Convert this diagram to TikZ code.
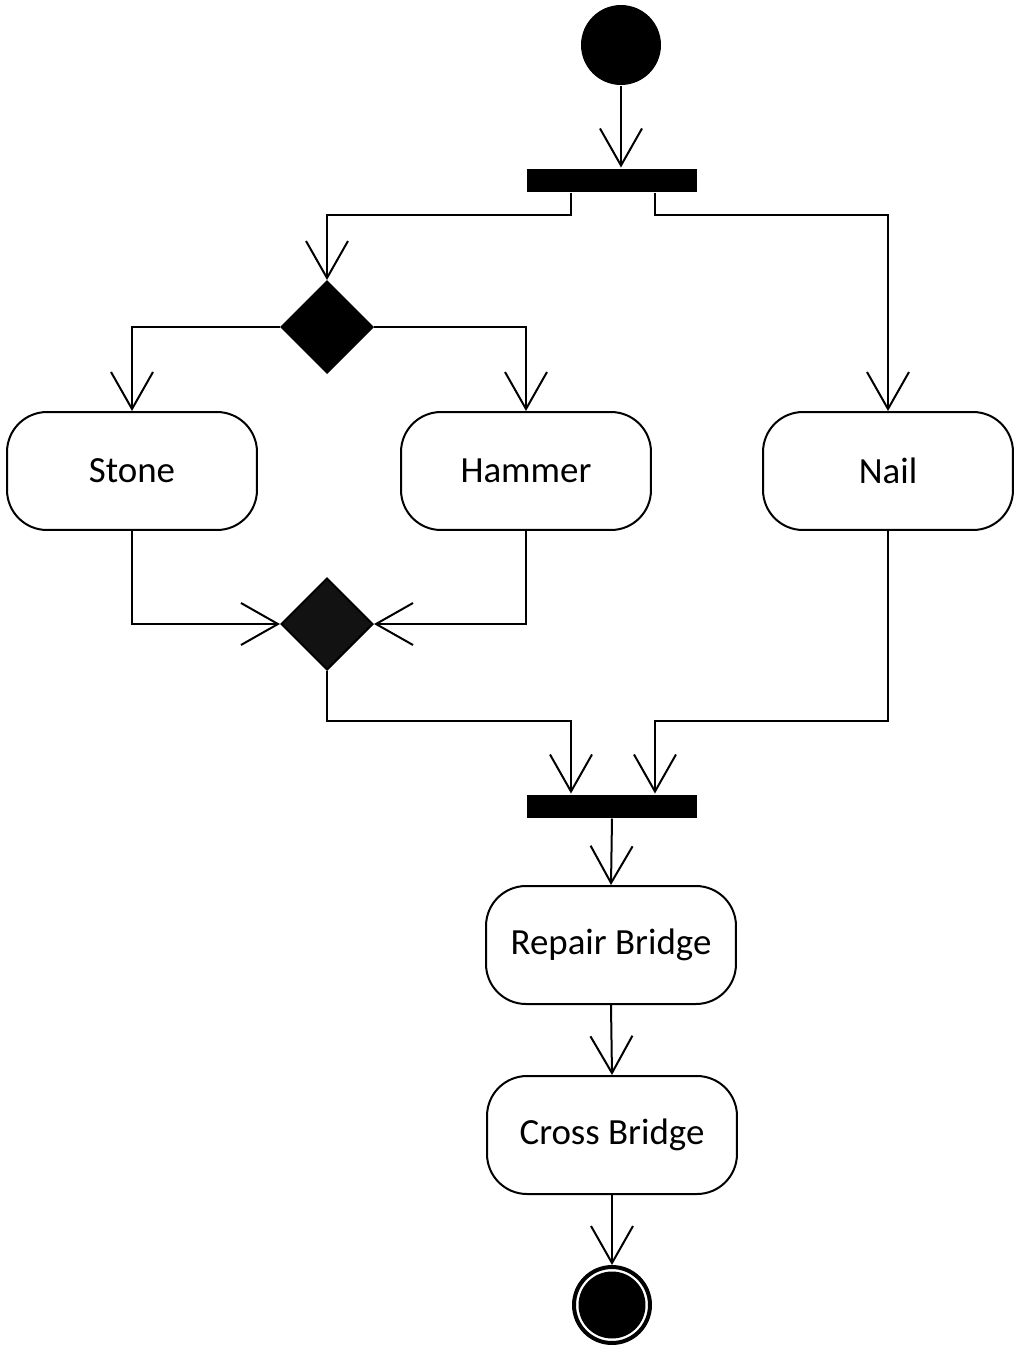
\documentclass[tikz,border=0pt]{standalone}
\usepackage{fontspec}
\setmainfont{Carlito}
\usetikzlibrary{shapes.geometric,arrows.meta,positioning,calc}

\begin{document}
\begin{tikzpicture}[
    x=0.02cm, y=-0.02cm,
    line width=0.04cm,
    flow/.style = {-{Straight Barb[length=0.74cm, width=0.84cm, line width=0.04cm]}},
    action/.style = {rectangle, draw, rounded corners=0.8cm, minimum width=5cm, minimum height=2.36cm, align=center, font=\fontsize{21}{25}\selectfont},
    syncbar/.style = {rectangle, fill=black, minimum width=3.4cm, minimum height=0.46cm, inner sep=0pt},
    choice/.style = {diamond, draw, fill=black, aspect=1, minimum size=1.84cm, inner sep=0pt},
    startstate/.style = {circle, fill=black, minimum size=1.6cm, inner sep=0pt},
    endstate/.style = {circle, draw, line width=0.08cm, minimum size=1.52cm, inner sep=0pt,
        path picture={\fill (path picture bounding box.center) circle (0.67cm);}},
    ]
    \useasboundingbox (0,0) rectangle (1024,1357);

        % Nodes
        \node[startstate] (start) at (621,45) {};
        \node[syncbar] (forkbar) at (612,180) {};
        \node[choice] (decide) at (327,327) {};
        \node[action] (stone) at (132,471) {Stone};
        \node[action] (hammer) at (526,471) {Hammer};
        \node[action] (nail) at (888,471) {Nail};
        \node[choice, fill=black!93] (merge) at (327,624) {};
        %
        \node[syncbar] (joinbar) at (612,806) {};
        \node[action] (repair) at (611,945) {Repair Bridge};
        \node[action] (cross) at (612,1135) {Cross Bridge};
        \node[endstate] (finish) at (612,1305) {};

        % Draw
        \draw [flow] (start) -- (start |- forkbar.north);
        \draw [flow] ([xshift=-0.82cm]forkbar.south) -- ++(0,22) -| (decide.north);
        \draw [flow] ([xshift=0.86cm]forkbar.south) -- ++(0,22) -| (nail.north);
        \draw [flow] (decide.west) -| (stone.north);
        \draw [flow] (decide.east) -| (hammer.north);
        \draw [flow] (stone.south) |- (merge.west);
        \draw [flow] (hammer.south) |- (merge.east);
        \draw [flow] (merge.south) -- ++(0,50) -| ([xshift=-0.82cm]joinbar.north);
        \draw [flow] (nail.south) -- ++(0,190) -| ([xshift=0.86cm]joinbar.north);
        \draw [flow] (joinbar.south) -- (repair.north);
        \draw [flow] (repair.south) -- (cross.north);
        \draw [flow] (cross.south) -- (finish.north);
\end{tikzpicture}
\end{document}
